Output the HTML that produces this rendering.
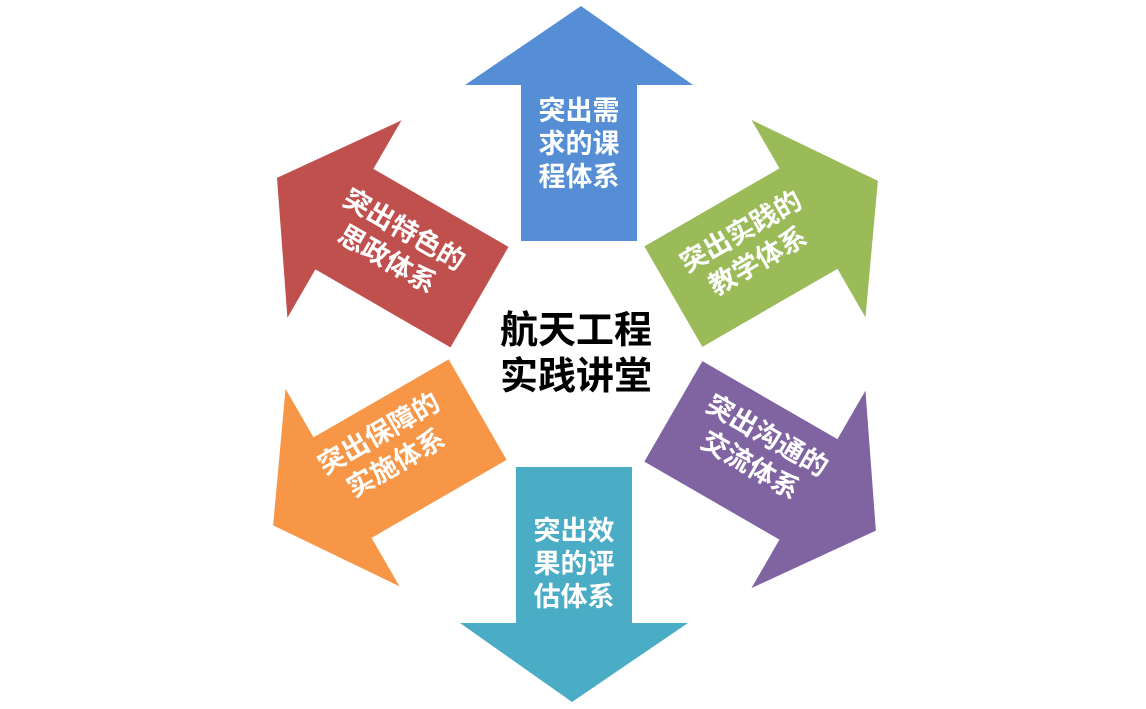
<!DOCTYPE html>
<html><head><meta charset="utf-8"><style>
html,body{margin:0;padding:0;background:#fff;}
svg{display:block;}
text{font-family:"Liberation Sans","Noto Sans CJK SC",sans-serif;}
</style></head><body>
<svg width="1146" height="709" viewBox="0 0 1146 709" xmlns="http://www.w3.org/2000/svg">
<defs>
<polygon id="arr" points="-58,-113 58,-113 58,-269 114,-269 2,-348 -114,-269 -58,-269"/>
</defs>
<g transform="translate(576,354)">
<use href="#arr" fill="#558ED5" transform="translate(3,0)"/>
<use href="#arr" fill="#9BBB59" transform="rotate(60) translate(-1,0)"/>
<use href="#arr" fill="#8064A2" transform="rotate(120) translate(1,0)"/>
<use href="#arr" fill="#4BACC6" transform="rotate(180) translate(2,0)"/>
<use href="#arr" fill="#F79646" transform="rotate(240) translate(1,0)"/>
<use href="#arr" fill="#C0504D" transform="rotate(300) translate(1,1)"/>
</g>
<g fill="#fff" font-size="27" font-weight="bold" text-anchor="middle">
<text x="579" y="120">突出需</text>
<text x="579" y="153">求的课</text>
<text x="579" y="186">程体系</text>
<text x="574" y="540">突出效</text>
<text x="574" y="573">果的评</text>
<text x="574" y="606">估体系</text>
<g transform="translate(748,244) rotate(-30)"><text y="-5">突出实践的</text><text y="29">教学体系</text></g>
<g transform="translate(760,448) rotate(30)"><text y="-5">突出沟通的</text><text y="29">交流体系</text></g>
<g transform="translate(386,446) rotate(-30)"><text y="-5">突出保障的</text><text y="29">实施体系</text></g>
<g transform="translate(397,242) rotate(30)"><text y="-5">突出特色的</text><text y="29">思政体系</text></g>
</g>
<g fill="#000" font-size="38" font-weight="bold" text-anchor="middle">
<text x="576" y="343">航天工程</text>
<text x="576" y="389">实践讲堂</text>
</g>
</svg>
</body></html>
